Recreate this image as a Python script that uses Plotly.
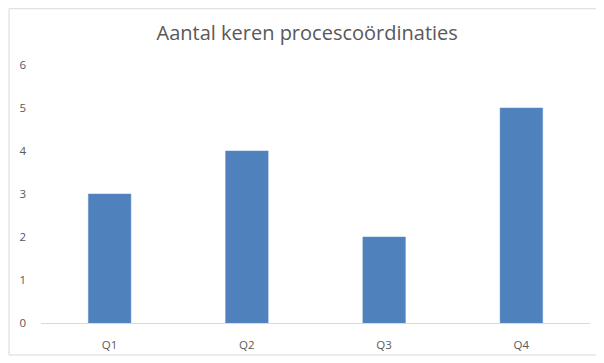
"""
Aantal keren procescoördinaties
-------------------------------
Column chart per quarter.
"""

import plotly.graph_objects as go


# ==============================
# Data
# ==============================

quarters = ["Q1", "Q2", "Q3", "Q4"]
counts = [3, 4, 2, 5]
y_ticks = [0, 1, 2, 3, 4, 5, 6]


# ==============================
# Figure
# ==============================

# page has an 8px body margin, so the figure is 8px smaller each way
fig = go.Figure(
    go.Bar(
        x=quarters,
        y=counts,
        marker=dict(color="#4F81BD", line=dict(color="#5B8BC7", width=0.5)),
        width=0.31,
    )
)

fig.update_layout(
    width=596,
    height=355,
    margin=dict(l=33, r=14, t=57, b=40),
    paper_bgcolor="white",
    plot_bgcolor="white",
    font=dict(family="Open Sans, Noto Sans, sans-serif", color="#595959", size=11.5),
    title=dict(
        text="Aantal keren procescoördinaties",
        x=0.502,
        xanchor="center",
        y=0.93,
        yanchor="middle",
        font=dict(size=20, color="#595959"),
    ),
    showlegend=False,
)

fig.update_xaxes(
    showgrid=False,
    showline=True,
    linecolor="#D9D9D9",
    linewidth=1,
    ticks="",
    ticklabelstandoff=11,
)

fig.update_yaxes(
    range=[0, 6],
    tickvals=y_ticks,
    showgrid=False,
    zeroline=False,
    showline=False,
    ticks="",
    ticklabelstandoff=14,
)

# light chart-area border, like the spreadsheet frame
fig.add_shape(
    type="rect",
    xref="paper",
    yref="paper",
    x0=-0.0583,
    x1=1.0237,
    y0=-0.124,
    y1=1.2180,
    line=dict(color="#D9D9D9", width=1),
    layer="below",
)

fig.write_html("out.html")
